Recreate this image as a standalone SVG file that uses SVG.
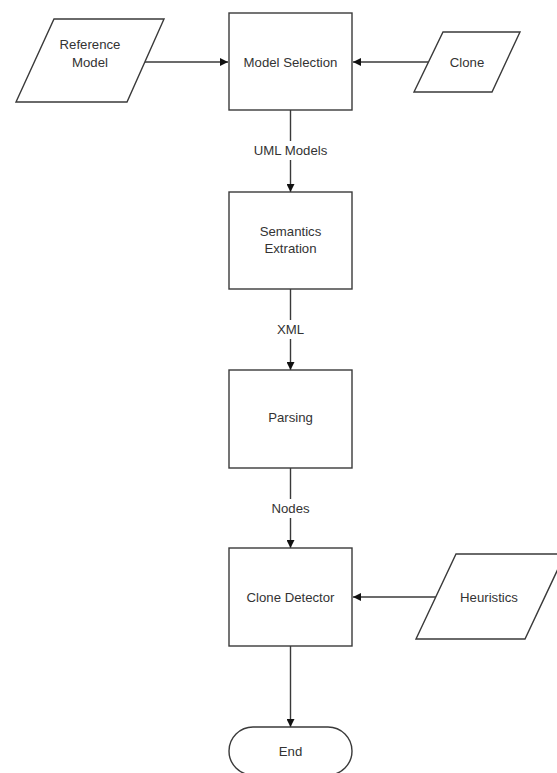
<svg xmlns="http://www.w3.org/2000/svg" width="557" height="773" viewBox="0 0 557 773">
<style>
.shape{fill:#fff;stroke:#3a3a3a;stroke-width:1.4}
.conn{fill:none;stroke:#3a3a3a;stroke-width:1.4}
.t{font-family:"Liberation Sans",Arial,sans-serif;font-size:13.2px;fill:#333;text-anchor:middle;dominant-baseline:central}
.lbl{fill:#fff}
</style>
<defs>
<marker id="arr" viewBox="0 0 10 10" refX="10" refY="5" markerWidth="8" markerHeight="8" markerUnits="userSpaceOnUse" orient="auto">
<path d="M0,0 L10,5 L0,10 z" fill="#111"/>
</marker>
</defs>
<rect width="557" height="773" fill="#fff"/>
<g id="connectors">
<line class="conn" x1="145" y1="62" x2="228" y2="62" marker-end="url(#arr)"/>
<line class="conn" x1="428" y1="62" x2="353" y2="62" marker-end="url(#arr)"/>
<line class="conn" x1="290.5" y1="110" x2="290.5" y2="192" marker-end="url(#arr)"/>
<line class="conn" x1="290.5" y1="289" x2="290.5" y2="370" marker-end="url(#arr)"/>
<line class="conn" x1="290.5" y1="468" x2="290.5" y2="548" marker-end="url(#arr)"/>
<line class="conn" x1="436" y1="597" x2="353" y2="597" marker-end="url(#arr)"/>
<line class="conn" x1="290.5" y1="646" x2="290.5" y2="727" marker-end="url(#arr)"/>
<rect class="lbl" x="254" y="141" width="74" height="19"/>
<text class="t" x="290.5" y="150">UML Models</text>
<rect class="lbl" x="274" y="320" width="33" height="19"/>
<text class="t" x="290.5" y="329">XML</text>
<rect class="lbl" x="266" y="499" width="49" height="19"/>
<text class="t" x="290.5" y="508">Nodes</text>
</g>
<g id="reference-model">
<polygon class="shape" points="54,19 164,19 127,102 16,102"/>
<text class="t" x="90" y="44">Reference</text>
<text class="t" x="90" y="62">Model</text>
</g>
<g id="model-selection">
<rect class="shape" x="229" y="13" width="123" height="97"/>
<text class="t" x="290.5" y="62">Model Selection</text>
</g>
<g id="clone">
<polygon class="shape" points="443,32 520,32 492,92 414,92"/>
<text class="t" x="467" y="62">Clone</text>
</g>
<g id="semantics-extraction">
<rect class="shape" x="229" y="192" width="123" height="97"/>
<text class="t" x="290.5" y="231">Semantics</text>
<text class="t" x="290.5" y="248">Extration</text>
</g>
<g id="parsing">
<rect class="shape" x="229" y="370" width="123" height="98"/>
<text class="t" x="290.5" y="417">Parsing</text>
</g>
<g id="clone-detector">
<rect class="shape" x="229" y="548" width="123" height="98"/>
<text class="t" x="290.5" y="597">Clone Detector</text>
</g>
<g id="heuristics">
<polygon class="shape" points="456,554 565,554 525,639 416,639"/>
<text class="t" x="489" y="597">Heuristics</text>
</g>
<g id="end">
<rect class="shape" x="229" y="727" width="123" height="48" rx="24" ry="24"/>
<text class="t" x="290.5" y="751">End</text>
</g>
</svg>
